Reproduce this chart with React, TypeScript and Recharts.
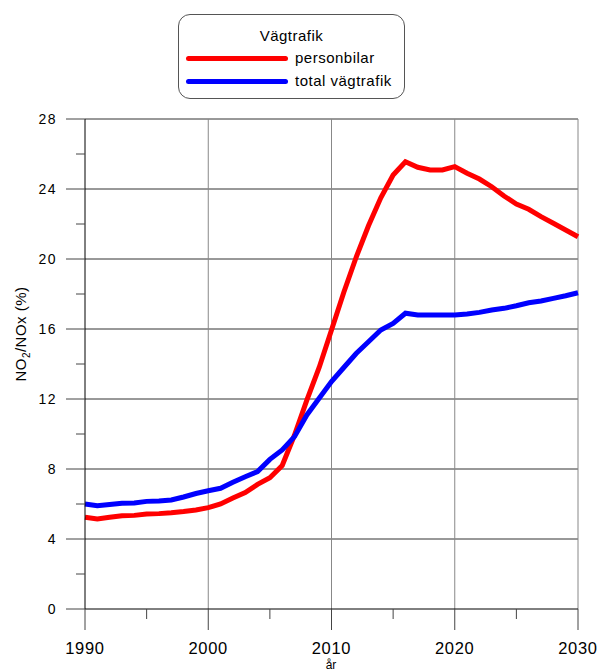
import React from 'react';
import { LineChart, Line, XAxis, YAxis, ReferenceLine } from 'recharts';

const years = [
  1990, 1991, 1992, 1993, 1994, 1995, 1996, 1997, 1998, 1999,
  2000, 2001, 2002, 2003, 2004, 2005, 2006, 2007, 2008, 2009,
  2010, 2011, 2012, 2013, 2014, 2015, 2016, 2017, 2018, 2019,
  2020, 2021, 2022, 2023, 2024, 2025, 2026, 2027, 2028, 2029, 2030,
];

const personbilar = [
  5.24, 5.14, 5.24, 5.33, 5.35, 5.43, 5.45, 5.5, 5.57, 5.66,
  5.79, 6.0, 6.34, 6.65, 7.12, 7.5, 8.2, 9.94, 11.94, 13.8,
  15.94, 18.1, 20.1, 21.9, 23.5, 24.8, 25.56, 25.24, 25.09, 25.09,
  25.28, 24.9, 24.57, 24.13, 23.6, 23.14, 22.84, 22.42, 22.04, 21.66, 21.27,
];

const totalVagtrafik = [
  6.0, 5.9, 5.97, 6.04, 6.06, 6.15, 6.17, 6.23, 6.4, 6.6,
  6.76, 6.9, 7.24, 7.56, 7.85, 8.55, 9.09, 9.85, 11.09, 12.04,
  13.0, 13.8, 14.6, 15.27, 15.94, 16.32, 16.9, 16.8, 16.8, 16.8,
  16.8, 16.86, 16.95, 17.09, 17.18, 17.33, 17.5, 17.6, 17.75, 17.9, 18.07,
];

const xTicks = [1990, 1995, 2000, 2005, 2010, 2015, 2020, 2025, 2030];
const yTicks = [0, 2, 4, 6, 8, 10, 12, 14, 16, 18, 20, 22, 24, 26, 28];
const xGrid = [2000, 2010, 2020, 2030];
const yGrid = [4, 8, 12, 16, 20, 24, 28];

const data = years.map((year, i) => ({
  year,
  personbilar: personbilar[i],
  total: totalVagtrafik[i],
}));

const font = '"Liberation Sans", Arial, sans-serif';

// tick line + label drawn by hand so the major/minor lengths differ
const XTick = ({ x, y, payload }: any) => {
  const major = payload.value % 10 === 0;
  return (
    <g>
      <line x1={x} x2={x} y1={y} y2={y + (major ? 21 : 10)} stroke="#444" />
      {major && (
        <text x={x} y={y + 45} textAnchor="middle" fontSize={16.5} letterSpacing={0.7} fill="#000" fontFamily={font}>
          {payload.value}
        </text>
      )}
    </g>
  );
};

const YTick = ({ x, y, payload }: any) => {
  const major = payload.value % 4 === 0;
  return (
    <g>
      <line x1={x - (major ? 19 : 9)} x2={x} y1={y} y2={y} stroke="#444" />
      {major && (
        <text x={x - 28} y={y + 5} textAnchor="end" fontSize={14} letterSpacing={1.5} fill="#000" fontFamily={font}>
          {payload.value}
        </text>
      )}
    </g>
  );
};

const YLabel = () => (
  <text transform="translate(26,334) rotate(-90)" textAnchor="middle" fontSize={15} letterSpacing={0.5} fill="#000" fontFamily={font}>
    NO<tspan fontSize={10} dy={4}>2</tspan>
    <tspan dy={-4}>/NOx (%)</tspan>
  </text>
);

const XLabel = () => (
  <text x={331} y={669} textAnchor="middle" fontSize={12} fill="#000" fontFamily={font}>
    år
  </text>
);

const Legend = () => (
  <div
    style={{
      position: 'absolute',
      left: 178,
      top: 14,
      width: 227,
      height: 85,
      boxSizing: 'border-box',
      border: '1px solid #555',
      borderRadius: 12,
      background: '#fff',
      fontFamily: font,
      fontSize: 15,
      letterSpacing: 0.5,
    }}
  >
    <div style={{ position: 'absolute', left: 0, right: 0, top: 12, textAlign: 'center' }}>Vägtrafik</div>
    <div style={{ position: 'absolute', left: 7, top: 41, width: 102, height: 5, borderRadius: 3, background: '#ff0000' }} />
    <div style={{ position: 'absolute', left: 116, top: 34 }}>personbilar</div>
    <div style={{ position: 'absolute', left: 7, top: 64, width: 102, height: 5, borderRadius: 3, background: '#0000ff' }} />
    <div style={{ position: 'absolute', left: 116, top: 57 }}>total vägtrafik</div>
  </div>
);

export default function App() {
  return (
    <div style={{ position: 'absolute', left: 0, top: 0, width: 599, height: 671, background: '#fff', overflow: 'hidden' }}>
      <LineChart width={599} height={671} data={data} margin={{ top: 119, right: 21, bottom: 32, left: 25 }}>
        <XAxis
          dataKey="year"
          type="number"
          domain={[1990, 2030]}
          ticks={xTicks}
          tick={<XTick />}
          tickLine={false}
          tickSize={0}
          tickMargin={0}
          axisLine={{ stroke: '#000' }}
          height={30}
          label={<XLabel />}
        />
        <YAxis
          type="number"
          domain={[0, 28]}
          ticks={yTicks}
          tick={<YTick />}
          tickLine={false}
          tickSize={0}
          tickMargin={0}
          axisLine={{ stroke: '#000' }}
          width={60}
          label={<YLabel />}
        />
        {yGrid.map((v) => (
          <ReferenceLine key={'y' + v} y={v} stroke="#333" />
        ))}
        {xGrid.map((v) => (
          <ReferenceLine key={'x' + v} x={v} stroke="#888" />
        ))}
        <Line type="linear" dataKey="personbilar" stroke="#ff0000" strokeWidth={5} dot={false} isAnimationActive={false} />
        <Line type="linear" dataKey="total" stroke="#0000ff" strokeWidth={5} dot={false} isAnimationActive={false} />
      </LineChart>
      <Legend />
    </div>
  );
}
